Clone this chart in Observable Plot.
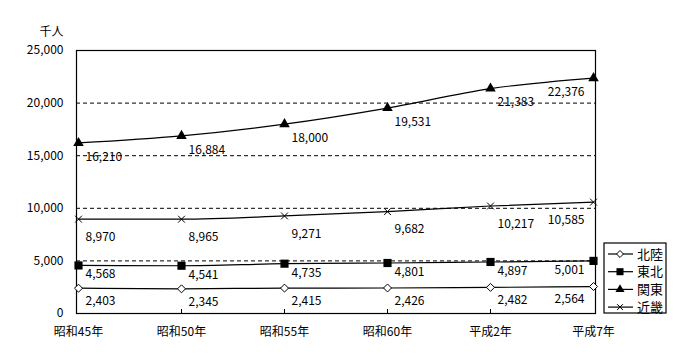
<!DOCTYPE html>
<html><head><meta charset="utf-8">
<script src="https://cdn.jsdelivr.net/npm/d3@7"></script>
<script src="https://cdn.jsdelivr.net/npm/@observablehq/plot@0.6"></script>
<style>
body{margin:0;background:#fff;}
#chart{position:relative;width:700px;height:360px;}
</style>
</head><body><div id="chart"></div>
<script>
const years = ["昭和45年","昭和50年","昭和55年","昭和60年","平成2年","平成7年"];
const seriesNames = ["北陸","東北","関東","近畿"];
const hokuriku = [2403,2345,2415,2426,2482,2564];
const tohoku = [4568,4541,4735,4801,4897,5001];
const kanto = [16210,16884,18000,19531,21383,22376];
const kinki = [8970,8965,9271,9682,10217,10585];
const yTicks = [0,5000,10000,15000,20000,25000];
const gridTicks = [5000,10000,15000,20000];
const unitLabel = "千人";

const seriesValues = [hokuriku, tohoku, kanto, kinki];
const data = [];
seriesNames.forEach((s, si) => seriesValues[si].forEach((v, i) => data.push({series: s, year: years[i], i, value: v})));

const style = {
  "北陸": {symbol: "diamond2", fill: "white", stroke: "black", r: 3.6, dy: 13},
  "東北": {symbol: "square", fill: "black", stroke: "none", r: 4.6, dy: 9},
  "関東": {symbol: "triangle", fill: "black", stroke: "none", r: 3.9, dy: 14},
  "近畿": {symbol: "times", fill: "none", stroke: "black", r: 3.2, dy: 18}
};
const FONT = "'Noto Sans CJK JP', 'DejaVu Sans', sans-serif";
const last = years.length - 1;

const marks = [
  Plot.ruleY(gridTicks, {stroke: "black", strokeDasharray: "4,3", strokeWidth: 1}),
  Plot.frame({stroke: "black", strokeWidth: 1.2}),
  Plot.ruleX(years.slice(1, -1), {x: d => d, insetTop: 259, stroke: "black"}),
  Plot.axisY(yTicks, {tickSize: 0, tickPadding: 13, tickFormat: d3.format(","), fontSize: 12, label: null}),
  Plot.axisX({tickSize: 0, tickPadding: 14, fontSize: 12, label: null}),
  Plot.text([unitLabel], {text: d => d, frameAnchor: "top-left", dx: -13, dy: -23, textAnchor: "end", fontSize: 12})
];
for (const s of seriesNames) {
  const sd = data.filter(d => d.series === s);
  const st = style[s];
  marks.push(Plot.line(sd, {x: "year", y: "value", stroke: "black", strokeWidth: 1.2, curve: "monotone-x"}));
  marks.push(Plot.dot(sd, {x: "year", y: "value", symbol: () => st.symbol, fill: st.fill, stroke: st.stroke, r: st.r, strokeWidth: 1}));
  marks.push(Plot.text(sd.filter(d => d.i !== last), {x: "year", y: "value", text: d => d3.format(",")(d.value), textAnchor: "start", dx: 7, dy: st.dy, fontSize: 12}));
  marks.push(Plot.text(sd.filter(d => d.i === last), {x: "year", y: "value", text: d => d3.format(",")(d.value), textAnchor: "end", dx: -9, dy: st.dy, fontSize: 12}));
}

const chart = Plot.plot({
  width: 700, height: 360,
  marginLeft: 76, marginRight: 105, marginTop: 50, marginBottom: 47,
  style: {fontFamily: FONT, fontSize: "12px", color: "black", background: "white"},
  x: {type: "point", domain: years, padding: 0},
  y: {domain: [0, 25000]},
  symbol: {type: "identity"},
  marks
});
document.getElementById("chart").appendChild(chart);

// legend
const svg = d3.select(chart);
const lg = svg.append("g").attr("font-family", FONT).attr("font-size", 13);
const bx = 604, by = 243, bw = 62, bh = 70;
lg.append("rect").attr("x", bx).attr("y", by).attr("width", bw).attr("height", bh).attr("fill", "white").attr("stroke", "black").attr("stroke-width", 1.2);
const symMap = {diamond2: d3.symbolDiamond2, square: d3.symbolSquare, triangle: d3.symbolTriangle, times: d3.symbolTimes};
seriesNames.forEach((s, k) => {
  const cy = by + 11 + k * 17.7;
  const st = style[s];
  lg.append("line").attr("x1", bx + 4).attr("x2", bx + 29).attr("y1", cy).attr("y2", cy).attr("stroke", "black").attr("stroke-width", 1.2);
  const sz = Math.PI * st.r * st.r * 0.75;
  lg.append("path").attr("transform", `translate(${bx + 16},${cy})`).attr("d", d3.symbol(symMap[st.symbol], sz)())
    .attr("fill", st.fill).attr("stroke", st.stroke);
  lg.append("text").attr("x", bx + 33).attr("y", cy).attr("dy", "0.35em").attr("text-anchor", "start").text(s);
});
</script></body></html>
